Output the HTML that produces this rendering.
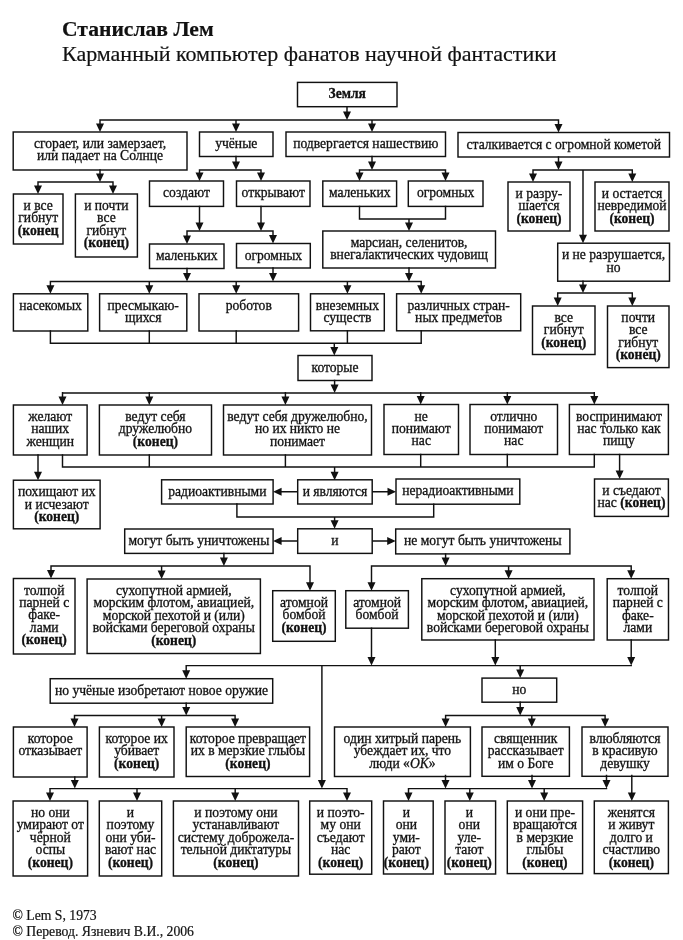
<!DOCTYPE html>
<html><head><meta charset="utf-8"><style>
html,body{margin:0;padding:0;background:#fff;width:683px;height:940px;overflow:hidden}
svg{position:absolute;left:0;top:0;filter:blur(0.4px)}
</style></head><body>
<svg width="683" height="940" viewBox="0 0 683 940">
<g font-family="'Liberation Serif', serif" fill="#111" stroke="#111" stroke-width="0.2">
<text x="62" y="36" font-size="21.6" font-weight="bold">Станислав Лем</text>
<text x="62" y="60.5" font-size="22">Карманный компьютер фанатов научной фантастики</text>
<text x="12.5" y="919.8" font-size="13.7">© Lem S, 1973</text>
<text x="12.5" y="935.8" font-size="13.7">© Перевод. Язневич В.И., 2006</text>
</g>
<g fill="none" stroke="#111" stroke-width="1.45">
<rect x="297.5" y="82.4" width="99.5" height="24.3"/>
<rect x="13.2" y="132" width="173.8" height="38"/>
<rect x="199.5" y="132" width="73.5" height="24.5"/>
<rect x="286" y="132" width="159.5" height="24.5"/>
<rect x="458" y="132.5" width="211.5" height="24.5"/>
<rect x="13.4" y="194" width="49.6" height="50"/>
<rect x="75.4" y="194" width="62" height="63"/>
<rect x="149.5" y="181" width="74" height="25.4"/>
<rect x="236.5" y="181" width="73.5" height="25.4"/>
<rect x="322.8" y="181" width="73.8" height="25.4"/>
<rect x="408.3" y="181" width="74.7" height="25.4"/>
<rect x="508" y="182" width="62" height="49"/>
<rect x="595" y="182" width="74" height="49"/>
<rect x="149.5" y="244" width="74.5" height="24.5"/>
<rect x="236.5" y="243.5" width="73.8" height="24.5"/>
<rect x="322.8" y="231" width="172.7" height="37"/>
<rect x="557.7" y="243.2" width="111.8" height="38"/>
<rect x="13.4" y="293.8" width="74.4" height="37.2"/>
<rect x="99.6" y="293.8" width="87.2" height="37.2"/>
<rect x="199" y="293.8" width="99.6" height="37.2"/>
<rect x="310.5" y="293.8" width="73.8" height="37"/>
<rect x="396.6" y="293.8" width="124.1" height="37"/>
<rect x="532.5" y="306" width="62.5" height="48.5"/>
<rect x="607.5" y="306" width="61.5" height="61.6"/>
<rect x="298" y="355.5" width="74" height="25"/>
<rect x="13.4" y="405" width="73.7" height="50"/>
<rect x="99.4" y="405" width="112.1" height="50"/>
<rect x="223.5" y="405" width="148" height="50"/>
<rect x="384" y="404.5" width="74.5" height="50"/>
<rect x="470" y="404.5" width="87.5" height="50"/>
<rect x="569.4" y="404.5" width="99" height="50"/>
<rect x="13.4" y="480.2" width="86.7" height="48.6"/>
<rect x="161.6" y="479.8" width="111.5" height="24.2"/>
<rect x="297.7" y="479.8" width="74.5" height="24.2"/>
<rect x="396" y="479" width="123.8" height="25.2"/>
<rect x="594.5" y="479" width="73.9" height="37.4"/>
<rect x="124.7" y="529" width="148.4" height="24.4"/>
<rect x="297.7" y="528.8" width="74.5" height="24.6"/>
<rect x="395.7" y="529" width="174.2" height="24.9"/>
<rect x="13.4" y="578.5" width="61.6" height="75.5"/>
<rect x="87.1" y="579" width="173.3" height="74.5"/>
<rect x="272.7" y="590.7" width="62.6" height="50.6"/>
<rect x="345.8" y="590.7" width="62.6" height="37.5"/>
<rect x="421.8" y="578.7" width="172.2" height="61.3"/>
<rect x="607.2" y="578.7" width="61.3" height="61.3"/>
<rect x="50.2" y="678.7" width="222.5" height="24.5"/>
<rect x="482" y="678.1" width="74.7" height="24.1"/>
<rect x="13.4" y="727" width="73.7" height="50"/>
<rect x="99.4" y="727" width="74.6" height="50"/>
<rect x="186.2" y="727" width="123.4" height="49.5"/>
<rect x="334.5" y="727" width="135.9" height="49.5"/>
<rect x="482" y="727" width="87.4" height="49.3"/>
<rect x="582" y="727" width="86" height="49.3"/>
<rect x="13.1" y="801" width="74.5" height="75"/>
<rect x="99.3" y="801" width="62.4" height="75"/>
<rect x="173.4" y="801" width="125.1" height="75"/>
<rect x="309.7" y="801" width="62" height="73.2"/>
<rect x="383.5" y="801" width="49.7" height="73"/>
<rect x="445" y="801" width="50.6" height="73"/>
<rect x="507.3" y="801" width="75.3" height="72.6"/>
<rect x="594.3" y="801" width="74.1" height="72.6"/>
<path d="M347 106.28V112.5 M99.28 120H559.23 M100 119.28V124.5 M236 119.28V124.5 M372 119.28V124.5 M558.5 119.28V125 M100 169.28V174.5 M37.27 182H113.72 M38 181.28V186.5 M113 181.28V186.5 M236 155.78V162.5 M198.78 170H261.73 M199.5 169.28V173.5 M261 169.28V173.5 M199.5 205.68V223.5 M261 205.68V223.5 M186.28 231H273.73 M187 230.28V236.5 M273 230.28V236 M372 155.78V162.5 M358.77 170H446.23 M359.5 169.28V173.5 M445.5 169.28V173.5 M359.5 205.68V219.72 M445.5 205.68V219.72 M358.77 219H446.23 M409 218.28V223.5 M558.5 156.28V162.5 M532.27 170H633.02 M533 169.28V174.5 M632.3 169.28V174.5 M583 169.28V235.7 M187 267.77V274 M273 267.27V274 M409 267.27V274 M49.67 281.5H421.93 M50.4 280.77V286.3 M149.3 280.77V286.3 M236.2 280.77V286.3 M347.4 280.77V286.3 M421.2 280.77V286.3 M583 280.47V285.5 M556.98 293H633.02 M557.7 292.27V298.5 M632.3 292.27V298.5 M50.4 330.27V344.03 M149.3 330.27V344.03 M236.2 330.27V344.03 M347.4 330.07V344.03 M421.2 330.07V344.03 M49.67 343.3H421.93 M334.3 342.57V348 M334.6 379.77V385.4 M61.77 392.9H595.02 M62.5 391.97V397.5 M149.3 391.97V397.5 M285.4 391.97V397.5 M420.7 391.97V397 M507.3 391.97V397 M594.3 391.97V397 M62.5 454.27V467.73 M149.3 454.27V467.73 M285.4 454.27V467.73 M420.7 453.77V467.73 M507.3 453.77V467.73 M594.3 453.77V467.73 M61.77 467H595.02 M334.6 466.27V472.7 M38 454.27V472.7 M619.6 453.77V471.5 M297.7 491.8H280.6 M372.2 491.8H388.5 M236.9 503.27V517.73 M433.7 503.47V517.73 M236.18 517H434.43 M334.6 516.27V521.3 M297.7 541H280.6 M372.2 541H388.2 M223.9 552.67V558.5 M50.27 566H310.73 M51 565.27V571 M161.6 565.27V571.5 M310 565.27V583.2 M445.6 553.17V558.5 M370.77 566H631.93 M371.5 565.27V583.2 M508.6 565.27V571.2 M631.2 565.27V571.2 M371.5 627.48V658.1 M495.3 639.27V658.1 M631.2 639.27V658.1 M185.47 665.6H631.93 M186.2 664.88V671.2 M520.2 664.88V670.6 M321.9 664.88V781.1 M186.2 702.48V708 M73.78 715.5H235.82 M74.5 714.77V719.5 M161.6 714.77V719.5 M235.1 714.77V719.5 M520.2 701.48V708 M444.88 715.5H605.83 M445.6 714.77V719.5 M531.8 714.77V719.5 M605.1 714.77V719.5 M74.8 776.27V781.1 M49.27 788.6H347.73 M50 787.88V793.5 M137 787.88V793.5 M235.2 787.88V793.5 M347 787.88V793.5 M445.5 774.77V781.1 M532 774.77V781.1 M606.5 774.77V781.1 M407.77 788.6H607.23 M408.5 787.88V793.5 M469.8 787.88V793.5 M544.2 787.88V793.5 M631.8 774.77V793.5"/>
</g>
<path fill="#111" d="M343 111.5L351 111.5L347 120Z M96 123.5L104 123.5L100 132Z M232 123.5L240 123.5L236 132Z M368 123.5L376 123.5L372 132Z M554.5 124L562.5 124L558.5 132.5Z M96 173.5L104 173.5L100 182Z M34 185.5L42 185.5L38 194Z M109 185.5L117 185.5L113 194Z M232 161.5L240 161.5L236 170Z M195.5 172.5L203.5 172.5L199.5 181Z M257 172.5L265 172.5L261 181Z M195.5 222.5L203.5 222.5L199.5 231Z M257 222.5L265 222.5L261 231Z M183 235.5L191 235.5L187 244Z M269 235L277 235L273 243.5Z M368 161.5L376 161.5L372 170Z M355.5 172.5L363.5 172.5L359.5 181Z M441.5 172.5L449.5 172.5L445.5 181Z M405 222.5L413 222.5L409 231Z M554.5 161.5L562.5 161.5L558.5 170Z M529 173.5L537 173.5L533 182Z M628.3 173.5L636.3 173.5L632.3 182Z M579 234.7L587 234.7L583 243.2Z M183 273L191 273L187 281.5Z M269 273L277 273L273 281.5Z M405 273L413 273L409 281.5Z M46.4 285.3L54.4 285.3L50.4 293.8Z M145.3 285.3L153.3 285.3L149.3 293.8Z M232.2 285.3L240.2 285.3L236.2 293.8Z M343.4 285.3L351.4 285.3L347.4 293.8Z M417.2 285.3L425.2 285.3L421.2 293.8Z M579 284.5L587 284.5L583 293Z M553.7 297.5L561.7 297.5L557.7 306Z M628.3 297.5L636.3 297.5L632.3 306Z M330.3 347L338.3 347L334.3 355.5Z M330.6 384.4L338.6 384.4L334.6 392.9Z M58.5 396.5L66.5 396.5L62.5 405Z M145.3 396.5L153.3 396.5L149.3 405Z M281.4 396.5L289.4 396.5L285.4 405Z M416.7 396L424.7 396L420.7 404.5Z M503.3 396L511.3 396L507.3 404.5Z M590.3 396L598.3 396L594.3 404.5Z M330.6 471.7L338.6 471.7L334.6 480.2Z M34 471.7L42 471.7L38 480.2Z M615.6 470.5L623.6 470.5L619.6 479Z M281.6 487.8L281.6 495.8L273.1 491.8Z M387.5 487.8L387.5 495.8L396 491.8Z M330.6 520.3L338.6 520.3L334.6 528.8Z M281.6 537L281.6 545L273.1 541Z M387.2 537L387.2 545L395.7 541Z M219.9 557.5L227.9 557.5L223.9 566Z M47 570L55 570L51 578.5Z M157.6 570.5L165.6 570.5L161.6 579Z M306 582.2L314 582.2L310 590.7Z M441.6 557.5L449.6 557.5L445.6 566Z M367.5 582.2L375.5 582.2L371.5 590.7Z M504.6 570.2L512.6 570.2L508.6 578.7Z M627.2 570.2L635.2 570.2L631.2 578.7Z M367.5 657.1L375.5 657.1L371.5 665.6Z M491.3 657.1L499.3 657.1L495.3 665.6Z M627.2 657.1L635.2 657.1L631.2 665.6Z M182.2 670.2L190.2 670.2L186.2 678.7Z M516.2 669.6L524.2 669.6L520.2 678.1Z M317.9 780.1L325.9 780.1L321.9 788.6Z M182.2 707L190.2 707L186.2 715.5Z M70.5 718.5L78.5 718.5L74.5 727Z M157.6 718.5L165.6 718.5L161.6 727Z M231.1 718.5L239.1 718.5L235.1 727Z M516.2 707L524.2 707L520.2 715.5Z M441.6 718.5L449.6 718.5L445.6 727Z M527.8 718.5L535.8 718.5L531.8 727Z M601.1 718.5L609.1 718.5L605.1 727Z M70.8 780.1L78.8 780.1L74.8 788.6Z M46 792.5L54 792.5L50 801Z M133 792.5L141 792.5L137 801Z M231.2 792.5L239.2 792.5L235.2 801Z M343 792.5L351 792.5L347 801Z M441.5 780.1L449.5 780.1L445.5 788.6Z M528 780.1L536 780.1L532 788.6Z M602.5 780.1L610.5 780.1L606.5 788.6Z M404.5 792.5L412.5 792.5L408.5 801Z M465.8 792.5L473.8 792.5L469.8 801Z M540.2 792.5L548.2 792.5L544.2 801Z M627.8 792.5L635.8 792.5L631.8 801Z"/>
<g font-family="'Liberation Serif', serif" font-size="13.6" fill="#111" stroke="#111" stroke-width="0.3" text-anchor="middle">
<text x="347.25" y="98.4" font-weight="bold">Земля</text>
<text x="100.1" y="148">сгорает, или замерзает,</text>
<text x="100.1" y="160.4">или падает на Солнце</text>
<text x="236.25" y="148">учёные</text>
<text x="365.75" y="148">подвергается нашествию</text>
<text x="563.75" y="148.5">сталкивается с огромной кометой</text>
<text x="38.2" y="210">и все</text>
<text x="38.2" y="222.4">гибнут</text>
<text x="38.2" y="234.8" font-weight="bold">(конец</text>
<text x="106.4" y="210">и почти</text>
<text x="106.4" y="222.4">все</text>
<text x="106.4" y="234.8">гибнут</text>
<text x="106.4" y="247.2" font-weight="bold">(конец)</text>
<text x="186.5" y="197">создают</text>
<text x="273.25" y="197">открывают</text>
<text x="359.7" y="197">маленьких</text>
<text x="445.65" y="197">огромных</text>
<text x="539" y="198">и разру-</text>
<text x="539" y="210.4">шается</text>
<text x="539" y="222.8" font-weight="bold">(конец)</text>
<text x="632" y="198">и остается</text>
<text x="632" y="210.4">невредимой</text>
<text x="632" y="222.8" font-weight="bold">(конец)</text>
<text x="186.75" y="260">маленьких</text>
<text x="273.4" y="259.5">огромных</text>
<text x="409.15" y="247">марсиан, селенитов,</text>
<text x="409.15" y="259.4">внегалактических чудовищ</text>
<text x="613.6" y="259.2">и не разрушается,</text>
<text x="613.6" y="271.6">но</text>
<text x="50.6" y="309.8">насекомых</text>
<text x="143.2" y="309.8">пресмыкаю-</text>
<text x="143.2" y="322.2">щихся</text>
<text x="248.8" y="309.8">роботов</text>
<text x="347.4" y="309.8">внеземных</text>
<text x="347.4" y="322.2">существ</text>
<text x="458.65" y="309.8">различных стран-</text>
<text x="458.65" y="322.2">ных предметов</text>
<text x="563.75" y="322">все</text>
<text x="563.75" y="334.4">гибнут</text>
<text x="563.75" y="346.8" font-weight="bold">(конец)</text>
<text x="638.25" y="322">почти</text>
<text x="638.25" y="334.4">все</text>
<text x="638.25" y="346.8">гибнут</text>
<text x="638.25" y="359.2" font-weight="bold">(конец)</text>
<text x="335" y="371.5">которые</text>
<text x="50.25" y="421">желают</text>
<text x="50.25" y="433.4">наших</text>
<text x="50.25" y="445.8">женщин</text>
<text x="155.45" y="421">ведут себя</text>
<text x="155.45" y="433.4">дружелюбно</text>
<text x="155.45" y="445.8" font-weight="bold">(конец)</text>
<text x="297.5" y="421">ведут себя дружелюбно,</text>
<text x="297.5" y="433.4">но их никто не</text>
<text x="297.5" y="445.8">понимает</text>
<text x="421.25" y="420.5">не</text>
<text x="421.25" y="432.9">понимают</text>
<text x="421.25" y="445.3">нас</text>
<text x="513.75" y="420.5">отлично</text>
<text x="513.75" y="432.9">понимают</text>
<text x="513.75" y="445.3">нас</text>
<text x="618.9" y="420.5">воспринимают</text>
<text x="618.9" y="432.9">нас только как</text>
<text x="618.9" y="445.3">пищу</text>
<text x="56.75" y="496.2">похищают их</text>
<text x="56.75" y="508.6">и исчезают</text>
<text x="56.75" y="521" font-weight="bold">(конец)</text>
<text x="217.35" y="495.8">радиоактивными</text>
<text x="334.95" y="495.8">и являются</text>
<text x="457.9" y="495">нерадиоактивными</text>
<text x="631.45" y="495">и съедают</text>
<text x="631.45" y="507.4">нас <tspan font-weight="bold">(конец)</tspan></text>
<text x="198.9" y="545">могут быть уничтожены</text>
<text x="334.95" y="544.8">и</text>
<text x="482.8" y="545">не могут быть уничтожены</text>
<text x="44.2" y="594.5">толпой</text>
<text x="44.2" y="606.9">парней с</text>
<text x="44.2" y="619.3">факе-</text>
<text x="44.2" y="631.7">лами</text>
<text x="44.2" y="644.1" font-weight="bold">(конец)</text>
<text x="173.75" y="595">сухопутной армией,</text>
<text x="173.75" y="607.4">морским флотом, авиацией,</text>
<text x="173.75" y="619.8">морской пехотой и (или)</text>
<text x="173.75" y="632.2">войсками береговой охраны</text>
<text x="173.75" y="644.6" font-weight="bold">(конец)</text>
<text x="304" y="606.7">атомной</text>
<text x="304" y="619.1">бомбой</text>
<text x="304" y="631.5" font-weight="bold">(конец)</text>
<text x="377.1" y="606.7">атомной</text>
<text x="377.1" y="619.1">бомбой</text>
<text x="507.9" y="594.7">сухопутной армией,</text>
<text x="507.9" y="607.1">морским флотом, авиацией,</text>
<text x="507.9" y="619.5">морской пехотой и (или)</text>
<text x="507.9" y="631.9">войсками береговой охраны</text>
<text x="637.85" y="594.7">толпой</text>
<text x="637.85" y="607.1">парней с</text>
<text x="637.85" y="619.5">факе-</text>
<text x="637.85" y="631.9">лами</text>
<text x="161.45" y="694.7">но учёные изобретают новое оружие</text>
<text x="519.35" y="694.1">но</text>
<text x="50.25" y="743">которое</text>
<text x="50.25" y="755.4">отказывает</text>
<text x="136.7" y="743">которое их</text>
<text x="136.7" y="755.4">убивает</text>
<text x="136.7" y="767.8" font-weight="bold">(конец)</text>
<text x="247.9" y="743">которое превращает</text>
<text x="247.9" y="755.4">их в мерзкие глыбы</text>
<text x="247.9" y="767.8" font-weight="bold">(конец)</text>
<text x="402.45" y="743">один хитрый парень</text>
<text x="402.45" y="755.4">убеждает их, что</text>
<text x="402.45" y="767.8">люди «<tspan font-style="italic">OK</tspan>»</text>
<text x="525.7" y="743">священник</text>
<text x="525.7" y="755.4">рассказывает</text>
<text x="525.7" y="767.8">им о Боге</text>
<text x="625" y="743">влюбляются</text>
<text x="625" y="755.4">в красивую</text>
<text x="625" y="767.8">девушку</text>
<text x="50.35" y="817">но они</text>
<text x="50.35" y="829.4">умирают от</text>
<text x="50.35" y="841.8">чёрной</text>
<text x="50.35" y="854.2">оспы</text>
<text x="50.35" y="866.6" font-weight="bold">(конец)</text>
<text x="130.5" y="817">и</text>
<text x="130.5" y="829.4">поэтому</text>
<text x="130.5" y="841.8">они уби-</text>
<text x="130.5" y="854.2">вают нас</text>
<text x="130.5" y="866.6" font-weight="bold">(конец)</text>
<text x="235.95" y="817">и поэтому они</text>
<text x="235.95" y="829.4">устанавливают</text>
<text x="235.95" y="841.8">систему доброжела-</text>
<text x="235.95" y="854.2">тельной диктатуры</text>
<text x="235.95" y="866.6" font-weight="bold">(конец)</text>
<text x="340.7" y="817">и поэто-</text>
<text x="340.7" y="829.4">му они</text>
<text x="340.7" y="841.8">съедают</text>
<text x="340.7" y="854.2">нас</text>
<text x="340.7" y="866.6" font-weight="bold">(конец)</text>
<text x="406.35" y="817">и</text>
<text x="406.35" y="829.4">они</text>
<text x="406.35" y="841.8">уми-</text>
<text x="406.35" y="854.2">рают</text>
<text x="406.35" y="866.6" font-weight="bold">(конец)</text>
<text x="469.3" y="817">и</text>
<text x="469.3" y="829.4">они</text>
<text x="469.3" y="841.8">уле-</text>
<text x="469.3" y="854.2">тают</text>
<text x="469.3" y="866.6" font-weight="bold">(конец)</text>
<text x="544.95" y="817">и они пре-</text>
<text x="544.95" y="829.4">вращаются</text>
<text x="544.95" y="841.8">в мерзкие</text>
<text x="544.95" y="854.2">глыбы</text>
<text x="544.95" y="866.6" font-weight="bold">(конец)</text>
<text x="631.35" y="817">женятся</text>
<text x="631.35" y="829.4">и живут</text>
<text x="631.35" y="841.8">долго и</text>
<text x="631.35" y="854.2">счастливо</text>
<text x="631.35" y="866.6" font-weight="bold">(конец)</text>
</g>
</svg>
</body></html>
